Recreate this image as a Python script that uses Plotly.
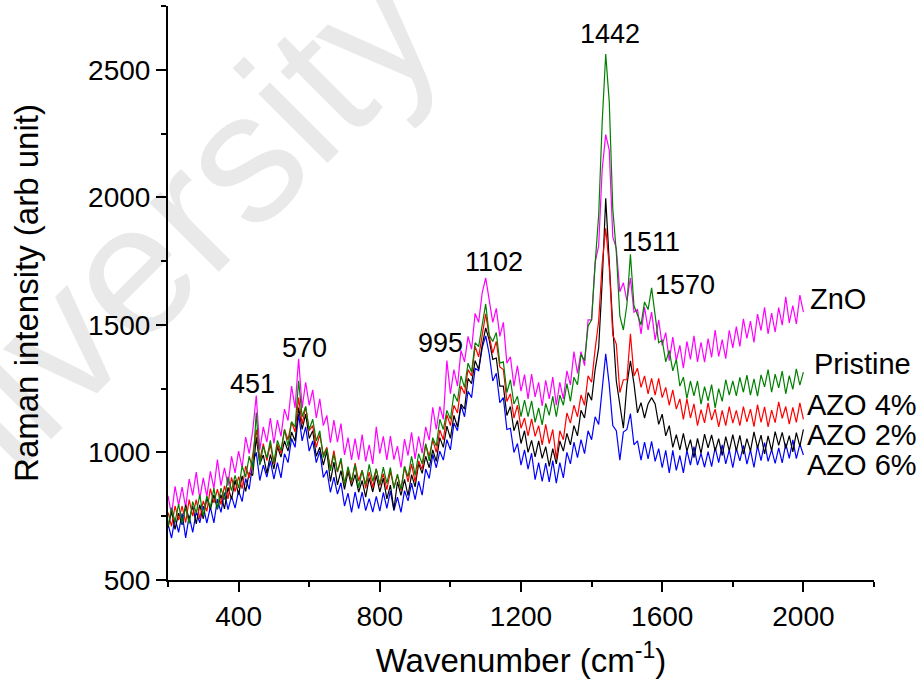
import plotly.graph_objects as go

# Wavenumber grid (cm^-1), one reading every 10 cm^-1 from 200 to 2000
wavenumber = list(range(200, 2001, 10))

# Intensities (arb. unit), rows of 10 = 100 cm^-1
zno = [
    830, 756, 867, 793, 864, 785, 896, 832, 923, 819,
    900, 828, 926, 859, 972, 870, 940, 870, 985, 920,
    1005, 940, 1060, 995, 1085, 1223, 1010, 1100, 1040, 1135,
    1035, 1127, 1063, 1170, 1125, 1260, 1175, 1367, 1175, 1275,
    1185, 1245, 1135, 1210, 1105, 1145, 1038, 1127, 1040, 1113,
    990, 1058, 971, 1054, 972, 1070, 965, 1030, 955, 1100,
    995, 1063, 971, 1064, 972, 1025, 941, 1052, 988, 1079,
    975, 1063, 997, 1100, 1048, 1177, 1090, 1180, 1130, 1360,
    1230, 1325, 1260, 1400, 1355, 1455, 1405, 1545, 1510, 1625,
    1684, 1605, 1510, 1565, 1455, 1510, 1350, 1375, 1260, 1340,
    1240, 1305, 1210, 1307, 1218, 1275, 1182, 1283, 1210, 1295,
    1185, 1275, 1210, 1320, 1265, 1395, 1310, 1395, 1340, 1520,
    1520, 1745, 1810, 2110, 2246, 2185, 1845, 1800, 1630, 1665,
    1595, 1684, 1550, 1560, 1465, 1570, 1480, 1550, 1440, 1520,
    1420, 1470, 1360, 1452, 1360, 1420, 1330, 1435, 1365, 1457,
    1355, 1432, 1354, 1446, 1373, 1480, 1376, 1442, 1368, 1479,
    1410, 1493, 1416, 1524, 1447, 1515, 1431, 1542, 1478, 1569,
    1465, 1546, 1472, 1568, 1499, 1610, 1508, 1576, 1504, 1617,
    1550,
]
pristine = [
    710, 784, 728, 797, 721, 785, 721, 807, 763, 834,
    750, 830, 785, 860, 780, 860, 815, 905, 850, 910,
    860, 947, 903, 985, 935, 1156, 950, 1025, 978, 1047,
    960, 1047, 1008, 1090, 1025, 1120, 1100, 1281, 1140, 1180,
    1090, 1130, 1045, 1085, 980, 1015, 928, 992, 925, 978,
    875, 944, 888, 952, 861, 930, 874, 953, 887, 936,
    875, 942, 879, 941, 858, 915, 855, 945, 905, 985,
    910, 995, 955, 1035, 967, 1058, 1025, 1130, 1090, 1165,
    1130, 1230, 1200, 1300, 1255, 1350, 1315, 1430, 1415, 1505,
    1582, 1460, 1435, 1470, 1350, 1355, 1235, 1285, 1190, 1220,
    1140, 1205, 1140, 1202, 1118, 1175, 1108, 1192, 1145, 1220,
    1140, 1225, 1185, 1270, 1200, 1295, 1265, 1385, 1360, 1495,
    1520, 1740, 1930, 2295, 2562, 2375, 1955, 1785, 1535, 1480,
    1580, 1777, 1575, 1540, 1500, 1590, 1560, 1645, 1540, 1430,
    1440, 1355, 1400, 1320, 1365, 1260, 1295, 1212, 1280, 1222,
    1280, 1189, 1258, 1202, 1266, 1175, 1250, 1200, 1285, 1225,
    1280, 1222, 1294, 1236, 1303, 1225, 1288, 1221, 1304, 1257,
    1325, 1236, 1307, 1253, 1319, 1230, 1301, 1247, 1328, 1264,
    1315,
]
azo4 = [
    765, 710, 790, 735, 790, 725, 815, 750, 815, 740,
    810, 769, 858, 802, 856, 795, 869, 818, 902, 846,
    905, 858, 947, 900, 990, 1090, 970, 1035, 968, 1032,
    955, 1033, 997, 1090, 1050, 1120, 1080, 1215, 1110, 1180,
    1085, 1105, 1020, 1070, 990, 1020, 936, 1007, 923, 969,
    875, 936, 882, 958, 889, 930, 859, 923, 862, 936,
    870, 917, 854, 926, 863, 910, 850, 945, 885, 955,
    885, 967, 933, 1030, 985, 1050, 1000, 1088, 1050, 1148,
    1105, 1185, 1155, 1260, 1230, 1325, 1300, 1415, 1375, 1460,
    1543, 1455, 1390, 1435, 1335, 1325, 1200, 1230, 1135, 1185,
    1095, 1135, 1065, 1132, 1063, 1105, 1030, 1110, 1035, 1090,
    975, 1085, 1050, 1155, 1115, 1185, 1140, 1225, 1185, 1300,
    1275, 1405, 1515, 1740, 1879, 1730, 1460, 1425, 1235, 1285,
    1285, 1465, 1300, 1330, 1255, 1300, 1230, 1290, 1225, 1290,
    1215, 1255, 1185, 1245, 1170, 1210, 1130, 1210, 1135, 1190,
    1105, 1168, 1116, 1194, 1127, 1170, 1100, 1165, 1105, 1180,
    1115, 1165, 1105, 1180, 1120, 1170, 1101, 1187, 1118, 1179,
    1100, 1166, 1117, 1198, 1134, 1180, 1111, 1177, 1118, 1194,
    1130,
]
azo2 = [
    705, 769, 698, 762, 716, 795, 735, 790, 720, 795,
    740, 823, 776, 834, 777, 835, 779, 863, 817, 891,
    835, 908, 847, 920, 910, 1060, 955, 990, 918, 992,
    935, 1023, 982, 1045, 1005, 1080, 1045, 1176, 1090, 1150,
    1055, 1085, 985, 1020, 950, 1005, 886, 962, 873, 929,
    855, 926, 867, 913, 844, 890, 825, 900, 845, 910,
    845, 899, 818, 872, 776, 885, 832, 894, 831, 913,
    865, 957, 918, 985, 940, 1010, 965, 1058, 1020, 1103,
    1055, 1145, 1100, 1190, 1170, 1290, 1270, 1360, 1325, 1420,
    1488, 1440, 1365, 1370, 1260, 1260, 1145, 1180, 1085, 1125,
    1035, 1085, 1000, 1047, 983, 1045, 977, 1023, 945, 1015,
    955, 1045, 1005, 1075, 1030, 1105, 1065, 1165, 1135, 1235,
    1205, 1325, 1410, 1670, 1996, 1720, 1495, 1280, 1190, 1095,
    1265, 1359, 1270, 1155, 1195, 1135, 1190, 1215, 1190, 1110,
    1150, 1065, 1105, 1020, 1070, 1010, 1075, 1005, 1050, 980,
    1055, 996, 1072, 1018, 1069, 1005, 1054, 988, 1062, 1006,
    1070, 1006, 1067, 993, 1054, 1005, 1081, 1017, 1068, 994,
    1065, 1006, 1082, 1028, 1079, 1015, 1066, 1002, 1078, 1024,
    1090,
]
azo6 = [
    720, 664, 743, 687, 761, 665, 751, 687, 768, 724,
    790, 723, 786, 724, 817, 765, 843, 776, 829, 782,
    850, 807, 898, 855, 960, 1000, 890, 950, 903, 967,
    895, 960, 900, 995, 960, 1055, 1020, 1150, 1045, 1100,
    1005, 1045, 960, 1005, 902, 930, 844, 903, 837, 881,
    790, 840, 765, 845, 780, 845, 772, 819, 766, 828,
    770, 843, 781, 849, 772, 825, 765, 850, 810, 880,
    815, 887, 833, 935, 898, 992, 940, 1005, 970, 1050,
    1010, 1115, 1085, 1185, 1140, 1240, 1215, 1330, 1320, 1410,
    1457, 1385, 1280, 1310, 1195, 1215, 1090, 1095, 1000, 1035,
    950, 1010, 935, 997, 893, 960, 887, 958, 885, 968,
    880, 960, 900, 1000, 955, 1040, 980, 1050, 995, 1085,
    1050, 1140, 1110, 1250, 1387, 1265, 1105, 1085, 970, 1080,
    1090, 1152, 1030, 1045, 970, 1040, 975, 1043, 965, 1015,
    940, 1008, 920, 1008, 930, 988, 920, 1008, 950, 1023,
    950, 996, 942, 1003, 944, 1020, 960, 1030, 955, 1010,
    940, 1016, 967, 1028, 954, 1010, 941, 1027, 968, 1039,
    965, 1011, 957, 1018, 959, 1035, 977, 1049, 976, 1033,
    990,
]

series_names = ["ZnO", "AZO 6%", "AZO 2%", "AZO 4%", "Pristine"]
series_values = [zno, azo6, azo2, azo4, pristine]
series_colors = ["#ff00ff", "#0000ff", "#000000", "#ff0000", "#008000"]

# Peak labels: (text, x, y) in data units
peak_labels = ["451", "570", "995", "1102", "1442", "1511", "1570"]
peak_x = [440, 587, 971, 1124, 1452, 1569, 1665]
peak_y = [1268, 1409, 1429, 1747, 2640, 1825, 1656]

# Series labels at right end (left-anchored)
end_labels = ["ZnO", "Pristine", "AZO 4%", "AZO 2%", "AZO 6%"]
end_x = [2012, 2025, 2005, 2005, 2005]
end_y = [1601, 1347, 1186, 1068, 951]

for v in series_values:
    assert len(v) == len(wavenumber), len(v)

FONT = "Arial, Liberation Sans, sans-serif"

fig = go.Figure()
for name, vals, col in zip(series_names, series_values, series_colors):
    fig.add_trace(go.Scatter(x=wavenumber, y=vals, mode="lines", name=name,
                             line=dict(color=col, width=1.2), showlegend=False,
                             hoverinfo="skip"))

# faint watermark, drawn beneath everything
fig.add_shape(type="rect", xref="paper", yref="paper",
              x0=-0.19, x1=0.01, y0=0.44, y1=0.64, layer="below",
              line=dict(width=0), fillcolor="rgba(0,0,0,0)",
              label=dict(text="University", textangle=-45, textposition="middle center",
                         font=dict(family=FONT, size=185, color="#e9e9e9")))

annotations = []
for t, x, y in zip(peak_labels, peak_x, peak_y):
    annotations.append(dict(text=t, x=x, y=y, xref="x", yref="y", showarrow=False,
                            font=dict(family=FONT, size=27, color="black"),
                            xanchor="center", yanchor="middle"))
for t, x, y in zip(end_labels, end_x, end_y):
    annotations.append(dict(text=t, x=x, y=y, xref="x", yref="y", showarrow=False,
                            font=dict(family=FONT, size=29, color="black"),
                            xanchor="left", yanchor="middle"))

axis_common = dict(showgrid=False, zeroline=False, showline=True, linecolor="black",
                   linewidth=2, ticks="outside", ticklen=10, tickwidth=2,
                   tickcolor="black", tickfont=dict(family=FONT, size=28, color="black"),
                   mirror=False)

fig.update_layout(
    width=924, height=686, autosize=False,
    margin=dict(l=168, r=50, t=6, b=106),
    paper_bgcolor="white", plot_bgcolor="rgba(0,0,0,0)",
    showlegend=False,
    annotations=annotations,
    xaxis=dict(range=[200, 2200], tickmode="linear", tick0=400, dtick=400,
               minor=dict(ticks="outside", ticklen=5, tickwidth=2, tickcolor="black",
                          tick0=200, dtick=200),
               title=dict(text="Wavenumber (cm<sup>-1</sup>)",
                          font=dict(family=FONT, size=33, color="black"), standoff=18),
               **axis_common),
    yaxis=dict(range=[500, 2750], tickmode="linear", tick0=500, dtick=500,
               minor=dict(ticks="outside", ticklen=5, tickwidth=2, tickcolor="black",
                          tick0=500, dtick=250),
               title=dict(text="Raman intensity (arb unit)",
                          font=dict(family=FONT, size=33, color="black"), standoff=40),
               **axis_common),
)

fig.write_html("out.html", config={"displayModeBar": False},
               post_script="document.body.style.margin='0px';document.body.style.padding='0px';")
